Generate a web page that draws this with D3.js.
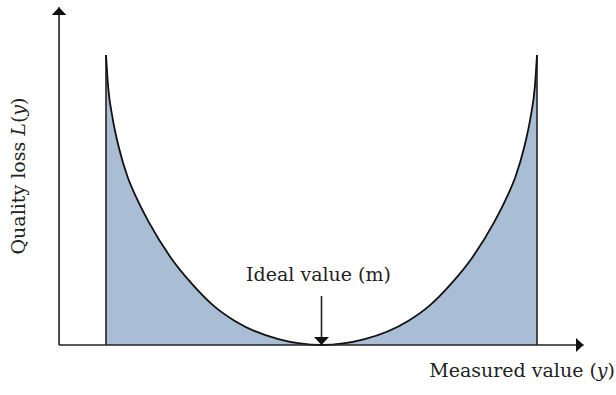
<!DOCTYPE html>
<html>
<head>
<meta charset="utf-8">
<style type="text/css">
body { margin: 0; background: #fff; }
svg { display: block; }
.lbl { font-family: "DejaVu Serif", serif; font-size: 19px; fill: #222; }
.axisline { stroke: #222; stroke-width: 1.6; fill: none; }
.bound { stroke: #222; stroke-width: 1.6; }
.loss { stroke: #111; stroke-width: 1.8; fill: none; }
</style>
<script src="https://cdn.jsdelivr.net/npm/d3@7"></script>
</head>
<body>
<div class="chart"></div>
<script type="text/javascript">
var measured = [0, 0.5, 1.5, 3, 5, 7, 10, 15, 20, 25, 30, 40, 50,
	60, 70, 75, 80, 85, 90, 93, 95, 97, 98.5, 99.5, 100];
var loss = [100, 89, 78.5, 68, 58, 51, 42.2, 30.2, 21, 13.5, 8.2, 2, 0,
	2, 8.2, 13.5, 21, 30.2, 42.2, 51, 58, 68, 78.5, 89, 100];
var idealValue = 50;
var xLabel = "Measured value (";
var yLabel = "Quality loss ";
var idealLabel = "Ideal value (m)";

var width = 616, height = 395;
var data = measured.map(function(m, i) { return {m: m, l: loss[i]}; });

var x = d3.scaleLinear().domain([0, 100]).range([106, 537]);
var y = d3.scaleLinear().domain([0, 100]).range([345, 55]);

var svg = d3.select(".chart").append("svg").attr("width", width).attr("height", height);

var defs = svg.append("defs");
defs.append("marker").attr("id", "arr")
	.attr("viewBox", "0 0 10 10").attr("refX", 10).attr("refY", 5)
	.attr("markerUnits", "userSpaceOnUse")
	.attr("markerWidth", 8).attr("markerHeight", 15)
	.attr("orient", "auto")
	.attr("preserveAspectRatio", "none")
	.append("path").attr("d", "M0,0L10,5L0,10Z").attr("fill", "#111");

var area = d3.area().curve(d3.curveMonotoneX)
	.x(function(d) { return x(d.m); })
	.y0(y(0))
	.y1(function(d) { return y(d.l); });
var line = d3.line().curve(d3.curveMonotoneX)
	.x(function(d) { return x(d.m); })
	.y(function(d) { return y(d.l); });

svg.append("path").datum(data).attr("d", area).attr("fill", "#a9bdd5");

// boundaries
svg.append("line").attr("class", "bound")
	.attr("x1", x(0)).attr("x2", x(0)).attr("y1", y(0)).attr("y2", y(100));
svg.append("line").attr("class", "bound")
	.attr("x1", x(100)).attr("x2", x(100)).attr("y1", y(0)).attr("y2", y(100));

svg.append("path").datum(data).attr("class", "loss").attr("d", line);

// axes
var x0 = x(-10.9);
svg.append("line").attr("class", "axisline")
	.attr("x1", x0).attr("y1", y(0)).attr("x2", x(110.8)).attr("y2", y(0))
	.attr("marker-end", "url(#arr)");
svg.append("line").attr("class", "axisline")
	.attr("x1", x0).attr("y1", y(0)).attr("x2", x0).attr("y2", y(116.5))
	.attr("marker-end", "url(#arr)");

// ideal value arrow
svg.append("line").attr("class", "axisline")
	.attr("x1", x(idealValue)).attr("x2", x(idealValue))
	.attr("y1", y(16.9)).attr("y2", y(0))
	.attr("marker-end", "url(#arr)");
svg.append("text").attr("class", "lbl")
	.attr("x", x(idealValue) - 3).attr("y", 281)
	.attr("text-anchor", "middle").text(idealLabel);

var xl = svg.append("text").attr("class", "lbl")
	.attr("x", 615).attr("y", 377).attr("text-anchor", "end");
xl.append("tspan").text(xLabel);
xl.append("tspan").attr("font-style", "italic").text("y");
xl.append("tspan").text(")");

var yl = svg.append("text").attr("class", "lbl")
	.attr("transform", "translate(25," + 176 + ") rotate(-90)")
	.attr("text-anchor", "middle");
yl.append("tspan").text(yLabel);
yl.append("tspan").attr("font-style", "italic").text("L");
yl.append("tspan").text("(");
yl.append("tspan").attr("font-style", "italic").text("y");
yl.append("tspan").text(")");
</script>
</body>
</html>
